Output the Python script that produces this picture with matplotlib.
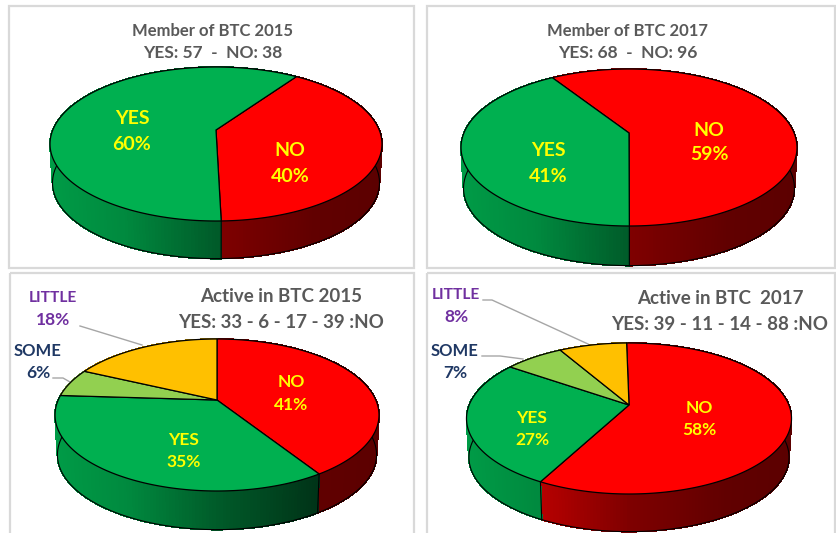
import matplotlib
matplotlib.use("Agg")
import matplotlib.pyplot as plt
import numpy as np
from matplotlib.patches import Rectangle

plt.rcParams["font.family"] = ["Lato", "DejaVu Sans"]

# data, clockwise from first slice
slices_member = ["NO", "YES"]
slices_active = ["NO", "YES", "SOME", "LITTLE"]
member_2015 = [40, 60]
member_2017 = [59, 41]
active_2015 = [41, 35, 6, 18]
active_2017 = [58, 27, 7, 8]

title_member_2015 = ["Member of BTC 2015", "YES: 57  -  NO: 38"]
title_member_2017 = ["Member of BTC 2017", "YES: 68  -  NO: 96"]
title_active_2015 = ["Active in BTC 2015", "YES: 33 - 6 - 17 - 39 :NO"]
title_active_2017 = ["Active in BTC  2017", "YES: 39 - 11 - 14 - 88 :NO"]

colors = {"NO": "#ff0000", "YES": "#00b050", "SOME": "#92d050", "LITTLE": "#ffc000"}
text_colors = {"NO": "#ffff00", "YES": "#ffff00", "SOME": "#1f3864", "LITTLE": "#7030a0"}


def project(theta, p):
    # perspective tilt of a unit disc, far side is squeezed
    u = np.sin(np.radians(theta))
    v = np.cos(np.radians(theta))
    k = (p["lower"] - p["upper"]) / (p["lower"] + p["upper"])
    s = p["upper"] * (1 + k)
    big_a = p["a"] * np.sqrt(1 - k ** 2)
    w = 1 + k * v
    return big_a * u / w, -s * v / w


def shade(t, name):
    f = np.interp(t, [-1, -0.55, 0, 0.6, 1], [0.88, 0.72, 0.5, 0.38, 0.36])
    if name != "NO":
        f = np.interp(t, [-1, -0.55, 0, 0.6, 1], [0.88, 0.78, 0.52, 0.3, 0.25])
    rgb = np.array(matplotlib.colors.to_rgb(colors[name]))
    return tuple(rgb * f)


def draw_pie(ax, values, names, p):
    cx, cy = p["cx"], p["cy"]
    edges = p["start"] + np.cumsum([0] + list(values)) * 3.6
    d = p["depth"]
    sc = 0.985

    # walls first, the top covers the back part
    for i, name in enumerate(names):
        th = np.arange(edges[i], edges[i + 1] + 1, 1.0)
        th[-1] = edges[i + 1]
        x, y = project(th, p)
        for j in range(len(th) - 1):
            qx = [cx + x[j], cx + x[j + 1], cx + sc * x[j + 1], cx + sc * x[j]]
            qy = [cy + y[j], cy + y[j + 1], cy + d + sc * y[j + 1], cy + d + sc * y[j]]
            c = shade(x[j] / p["a"], name)
            ax.fill(qx, qy, facecolor=c, edgecolor=c, lw=0.6, antialiased=False, zorder=2)
        ax.plot(cx + sc * x, cy + d + sc * y, color="black", lw=0.8, zorder=3)
        ax.plot([cx + x[0], cx + sc * x[0]], [cy + y[0], cy + d + sc * y[0]],
                color="black", lw=0.8, zorder=3)

    for i, name in enumerate(names):
        th = np.arange(edges[i], edges[i + 1] + 1, 1.0)
        th[-1] = edges[i + 1]
        x, y = project(th, p)
        ax.fill(np.r_[cx, cx + x], np.r_[cy, cy + y], facecolor=colors[name],
                edgecolor="black", lw=0.9, zorder=4)


def two_lines(ax, x, y1, y2, lines, color, size, size2=None):
    ax.text(x, y1, lines[0], color=color, fontsize=size, fontweight="bold",
            ha="center", va="center", zorder=6)
    ax.text(x, y2, lines[1], color=color, fontsize=size2 or size, fontweight="bold",
            ha="center", va="center", zorder=6)


fig = plt.figure(figsize=(8.37, 5.33), dpi=100)
ax = fig.add_axes([0, 0, 1, 1])
ax.set_xlim(0, 837)
ax.set_ylim(533, 0)
ax.axis("off")

# frames
for x0, y0, x1, y1 in [(9, 6, 414, 268), (427, 6, 835, 268), (10, 273, 414, 540), (427, 273, 835, 540)]:
    ax.add_patch(Rectangle((x0, y0), x1 - x0, y1 - y0, fill=False, ec="#d9d9d9", lw=1.6, zorder=1))

draw_pie(ax, member_2015, slices_member,
         {"cx": 216, "cy": 130, "upper": 63, "lower": 91, "a": 166, "depth": 39, "start": 34.5})
draw_pie(ax, member_2017, slices_member,
         {"cx": 629, "cy": 133, "upper": 64, "lower": 93, "a": 168, "depth": 41, "start": -32.5})
draw_pie(ax, active_2015, slices_active,
         {"cx": 217, "cy": 400, "upper": 61, "lower": 91, "a": 162, "depth": 40, "start": 0})
draw_pie(ax, active_2017, slices_active,
         {"cx": 629, "cy": 405, "upper": 62, "lower": 89, "a": 162.5, "depth": 39, "start": -1})

# titles
two_lines(ax, 213, 31, 53, title_member_2015, "#595959", 12, 12.5)
two_lines(ax, 628, 31, 53, title_member_2017, "#595959", 12, 12.5)
two_lines(ax, 281, 297, 322, title_active_2015, "#595959", 13.5)
two_lines(ax, 720, 298, 324, title_active_2017, "#595959", 13.5)

# the top title lines are cut off at the bottom in the source
for x0 in (120, 535):
    ax.add_patch(Rectangle((x0, 35.5), 190, 4, fc="white", ec="none", zorder=7))


# slice labels
def label(x, y1, y2, name, value, size, size2=None):
    two_lines(ax, x, y1, y2, [name, f"{value}%"], text_colors[name], size, size2)


label(132, 118, 145, "YES", member_2015[1], 14)
label(290, 150, 176, "NO", member_2015[0], 14)
label(548, 150, 176, "YES", member_2017[1], 14)
label(709, 130, 155, "NO", member_2017[0], 14)

label(291, 382, 405, "NO", active_2015[0], 12.5)
label(184, 440, 462, "YES", active_2015[1], 12.5)
label(38, 351, 373, "SOME", active_2015[2], 12, 12.5)
label(53, 298, 320, "LITTLE", active_2015[3], 11.2, 12.5)

label(699, 408, 430, "NO", active_2017[0], 12.5)
label(532, 418, 440, "YES", active_2017[1], 12.5)
label(455, 351, 373, "SOME", active_2017[2], 12, 12.5)
label(456, 295, 317, "LITTLE", active_2017[3], 11.2, 12.5)

# leader lines
for xs, ys in [([80, 142], [326, 345]), ([53, 63, 70], [378, 378, 382]),
               ([483, 492, 588], [300, 300, 344]), ([482, 500, 523], [356, 356, 359])]:
    ax.plot(xs, ys, color="#a6a6a6", lw=1.0, zorder=3.5)

fig.savefig("out.png", dpi=100, facecolor="white")
